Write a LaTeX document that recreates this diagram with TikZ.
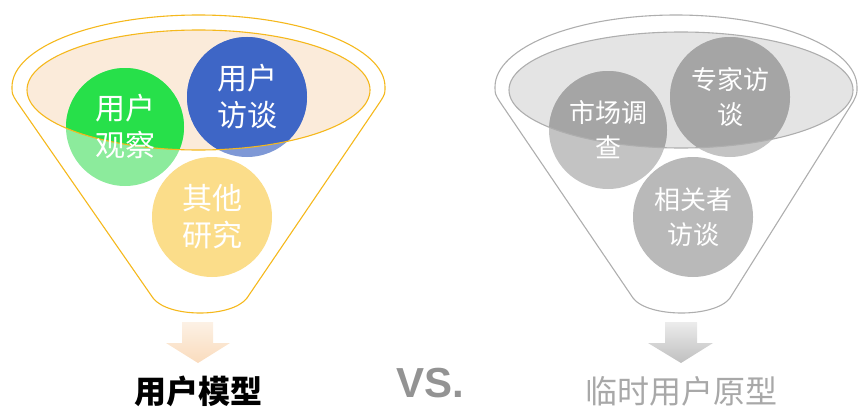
\documentclass[tikz,border=0pt]{standalone}
\usepackage{fontspec}
\setsansfont{Liberation Sans}
\newfontfamily\cjk{Noto Sans CJK SC}
\definecolor{funnelgold}{HTML}{F5B81C}
\definecolor{peachfill}{HTML}{FBEBDA}
\definecolor{obsgreen}{HTML}{27E04A}
\definecolor{obslight}{HTML}{8CEB9C}
\definecolor{intvblue}{HTML}{3E66C6}
\definecolor{intvlight}{HTML}{7E98D6}
\definecolor{studyyellow}{HTML}{FBDD8A}
\definecolor{greyrim}{HTML}{AEAEAE}
\definecolor{greyfill}{HTML}{E4E4E4}
\definecolor{greydark}{HTML}{A5A5A5}
\definecolor{greylight}{HTML}{C3C3C3}
\definecolor{labelgrey}{HTML}{A8A8A8}
\tikzset{
  rim/.style={line width=1.1pt},
  bubbletext/.style={text=white, align=center, inner sep=0pt, font=\cjk\fontsize{30}{37}\selectfont},
  smallbubbletext/.style={bubbletext, font=\cjk\fontsize{26}{35}\selectfont},
  result/.style={inner sep=0pt, font=\cjk\fontsize{32}{36}\selectfont}
}
\begin{document}
\begin{tikzpicture}[x=1pt,y=1pt]
   \useasboundingbox (0,0) rectangle (858,408);
   % left funnel: user model
   \coordinate (obs) at (125,281);
   \coordinate (intv) at (247,311);
   \coordinate (other) at (212,191);
   \draw[rim, funnelgold] (12,321) arc[start angle=180, end angle=0, x radius=186.5pt, y radius=72pt]
      .. controls (385,314) .. (380,306) -- (247,110)
      .. controls (232,90) and (168,90) .. (153,110) -- (17,306)
      .. controls (12,314) .. cycle;
   \fill[peachfill] (198.5,318) ellipse[x radius=171.5pt, y radius=60pt];
   \fill[obslight] (obs) circle[radius=59pt];
   \fill[intvlight] (intv) circle[radius=60pt];
   \fill[studyyellow] (other) circle[radius=60pt];
   \begin{scope}
      \clip (198.5,318) ellipse[x radius=171.5pt, y radius=60pt];
      \fill[obsgreen] (obs) circle[radius=59pt];
      \fill[intvblue] (intv) circle[radius=60pt];
   \end{scope}
   \draw[rim, funnelgold] (198.5,318) ellipse[x radius=171.5pt, y radius=60pt];
   \node[bubbletext] (obstext) at (obs) {用户\\观察};
   \node[bubbletext] (intvtext) at (intv) {用户\\访谈};
   \node[bubbletext] (othertext) at (other) {其他\\研究};
   \shade[top color=peachfill!70!white, bottom color=peachfill!75!brown!60!orange!45]
      (182,86) -- (213,86) -- (213,65) -- (230,65) -- (198,45) -- (166,65) -- (182,65) -- cycle;
   \node[result, font=\cjk\bfseries\fontsize{32}{36}\selectfont] (model) at (198,17) {用户模型};
   % middle
   \node[inner sep=0pt, text=gray!85, font=\sffamily\bfseries\fontsize{42}{44}\selectfont] (vs) at (430,25) {VS.};
   % right funnel: ad hoc persona
   \coordinate (market) at (608,278);
   \coordinate (expert) at (730,311);
   \coordinate (stake) at (693,191);
   \draw[rim, greyrim] (495,321) arc[start angle=180, end angle=0, x radius=181pt, y radius=72pt]
      .. controls (857,314) .. (853,306) -- (730,110)
      .. controls (715,90) and (648,90) .. (633,110) -- (500,306)
      .. controls (495,314) .. cycle;
   \fill[greyfill] (681,318) ellipse[x radius=172pt, y radius=58pt];
   \fill[greylight] (market) circle[radius=59pt];
   \fill[greylight] (expert) circle[radius=60pt];
   \fill[greylight!95!black] (stake) circle[radius=60pt];
   \begin{scope}
      \clip (681,318) ellipse[x radius=172pt, y radius=58pt];
      \fill[greydark] (market) circle[radius=59pt];
      \fill[greydark] (expert) circle[radius=60pt];
   \end{scope}
   \draw[rim, greyrim] (681,318) ellipse[x radius=172pt, y radius=58pt];
   \node[smallbubbletext] (markettext) at (market) {市场调\\查};
   \node[smallbubbletext] (experttext) at (expert) {专家访\\谈};
   \node[smallbubbletext] (staketext) at (stake) {相关者\\访谈};
   \shade[top color=gray!15, bottom color=gray!50]
      (665,86) -- (697,86) -- (697,65) -- (713,65) -- (681,45) -- (648,65) -- (665,65) -- cycle;
   \node[result, text=labelgrey] (persona) at (681,17) {临时用户原型};
\end{tikzpicture}
\end{document}
